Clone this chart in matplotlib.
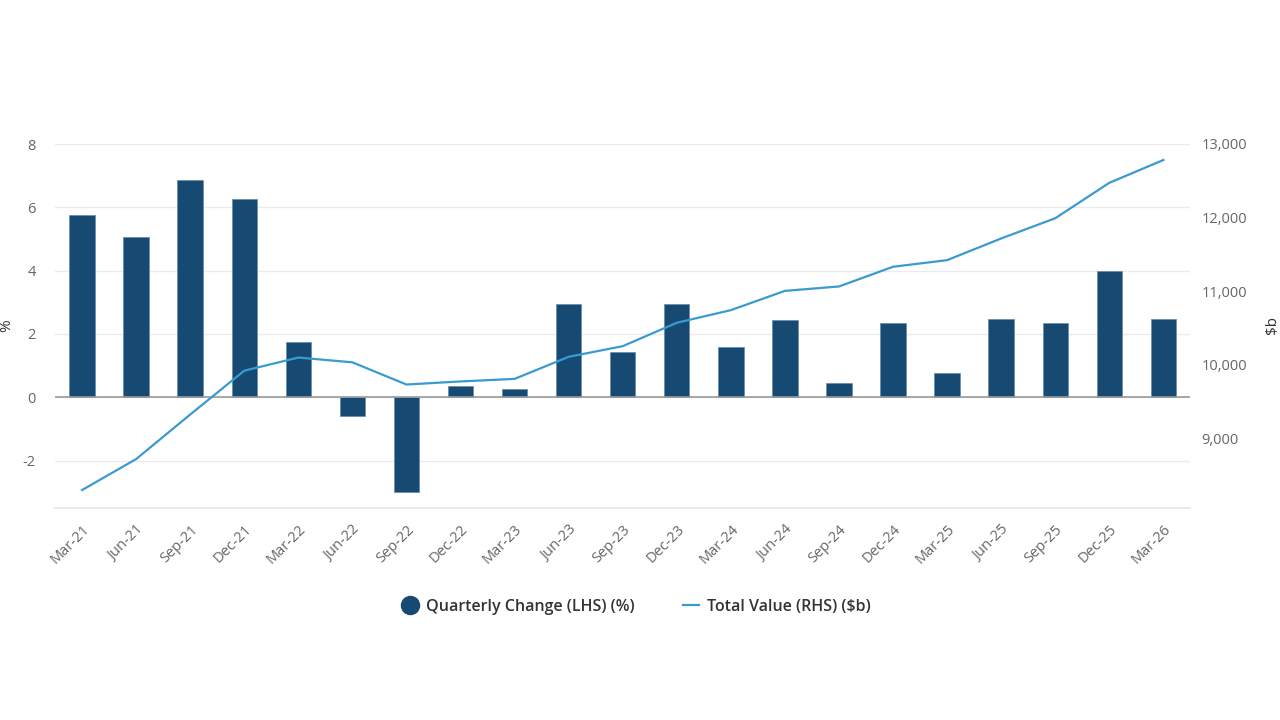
import numpy as np
import matplotlib
matplotlib.use("Agg")
import matplotlib.pyplot as plt
from matplotlib.lines import Line2D
from matplotlib.ticker import FuncFormatter

plt.rcParams['font.family'] = ['Open Sans', 'DejaVu Sans']
plt.rcParams['axes.unicode_minus'] = False

quarters = ["Mar-21", "Jun-21", "Sep-21", "Dec-21", "Mar-22", "Jun-22", "Sep-22",
            "Dec-22", "Mar-23", "Jun-23", "Sep-23", "Dec-23", "Mar-24", "Jun-24",
            "Sep-24", "Dec-24", "Mar-25", "Jun-25", "Sep-25", "Dec-25", "Mar-26"]

# quarterly change, % (LHS)
quarterly_change = [5.75, 5.06, 6.87, 6.26, 1.75, -0.59, -2.98, 0.34, 0.25, 2.95,
                    1.44, 2.95, 1.58, 2.45, 0.44, 2.36, 0.76, 2.46, 2.36, 3.99, 2.46]

# total value, $b (RHS)
total_value = [8293, 8714, 9320, 9916, 10095, 10030, 9728, 9770, 9805, 10105,
               10250, 10568, 10740, 11002, 11062, 11330, 11420, 11715, 11990, 12472, 12782]

BAR_COLOR = '#174a72'
LINE_COLOR = '#3a9bd0'
TICK_COLOR = '#666666'

fig = plt.figure(figsize=(12.8, 7.2), dpi=100)
ax = fig.add_axes([0.043, 0.2944, 0.887, 0.5056])
ax2 = ax.twinx()

x = np.arange(len(quarters))
ax.bar(x, quarterly_change, width=0.47, color=BAR_COLOR, edgecolor='#6d8fae',
       linewidth=0.6, zorder=3)
ax.axhline(0, color='#9a9a9a', linewidth=1.2, zorder=4)

ax2.plot(x, total_value, color=LINE_COLOR, linewidth=1.6, zorder=5)

ax.set_xlim(-0.5, len(quarters) - 0.5)
ax.set_ylim(-3.5, 8)
ax.set_yticks([-2, 0, 2, 4, 6, 8])
ax2.set_ylim(8048, 13000)
ax2.set_yticks([9000, 10000, 11000, 12000, 13000])
ax2.yaxis.set_major_formatter(FuncFormatter(lambda v, p: f"{int(v):,}"))

ax.grid(axis='y', color='#ebebeb', linewidth=1, zorder=0)
ax.set_axisbelow(True)

for a in (ax, ax2):
    for s in a.spines.values():
        s.set_visible(False)
ax.spines['bottom'].set_visible(True)
ax.spines['bottom'].set_color('#e4e6ea')
ax.spines['bottom'].set_linewidth(1.2)

ax.set_xticks(x)
ax.set_xticklabels(quarters, rotation=45, ha='right', rotation_mode='anchor')
ax.tick_params(axis='x', length=0, pad=10, labelsize=10.5, labelcolor=TICK_COLOR)
ax.tick_params(axis='y', length=0, pad=14, labelsize=10.5, labelcolor=TICK_COLOR)
ax2.tick_params(axis='y', length=0, pad=8, labelsize=10.5, labelcolor=TICK_COLOR)

fig.text(0.005, 0.548, '%', rotation=90, ha='center', va='center',
         fontsize=11, color='#333333')
fig.text(0.9945, 0.548, '$b', rotation=90, ha='center', va='center',
         fontsize=11, color='#333333')

handles = [
    Line2D([], [], marker='o', linestyle='none', markersize=13,
           markerfacecolor=BAR_COLOR, markeredgecolor=BAR_COLOR),
    Line2D([], [], color=LINE_COLOR, linewidth=1.6),
]
fig.legend(handles, ['Quarterly Change (LHS) (%)', 'Total Value (RHS) ($b)'],
           loc='center', bbox_to_anchor=(0.497, 0.157), ncol=2, frameon=False,
           prop={'size': 11.5, 'weight': 'semibold'}, labelcolor='#333333',
           handlelength=1.0, handletextpad=0.5, columnspacing=3.0)

fig.savefig('out.png', dpi=100, facecolor='white')
